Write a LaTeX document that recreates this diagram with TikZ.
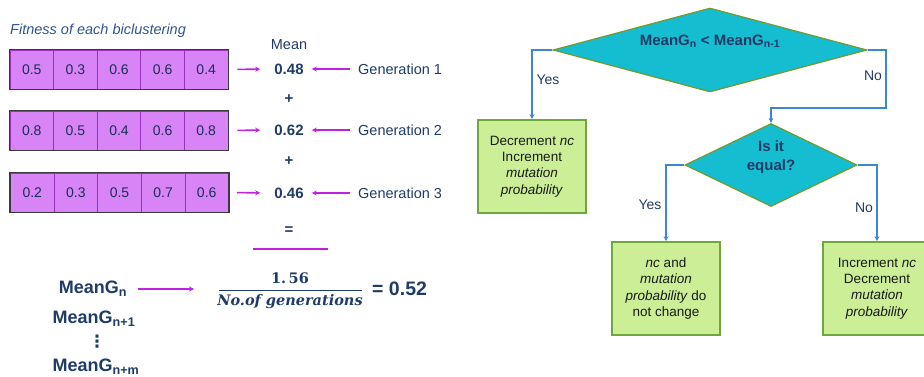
\documentclass[tikz,border=0pt]{standalone}
\usepackage{fontspec}
\setmainfont{Liberation Sans}
\newfontfamily\dejavu{DejaVu Sans}
\newfontfamily\dvserif{DejaVu Serif}
\usetikzlibrary{arrows.meta,shapes.geometric}
\definecolor{navy}{HTML}{1F3B68}
\definecolor{titleblue}{HTML}{2E5590}
\definecolor{cellfill}{HTML}{D884F6}
\definecolor{celldiv}{HTML}{9B30C0}
\definecolor{cellborder}{HTML}{3A3A3A}
\definecolor{magarrow}{HTML}{C21FE6}
\definecolor{cyanfill}{HTML}{14BDD0}
\definecolor{olive}{HTML}{739A2C}
\definecolor{greenfill}{HTML}{CBEE96}
\definecolor{greenborder}{HTML}{6FA83A}
\definecolor{flowblue}{HTML}{3B87D6}
\definecolor{boxtext}{HTML}{1A1A1A}
\tikzset{
  cell/.style={draw=celldiv, line width=0.8pt, fill=cellfill, minimum width=43.6pt, minimum height=39pt, inner sep=0pt, text=navy!80!black, font=\fontsize{14}{16}\selectfont},
  meanval/.style={font=\fontsize{15}{18}\selectfont\bfseries, text=navy, inner sep=2pt},
  gentext/.style={anchor=west, font=\fontsize{14.5}{17}\selectfont, text=navy, inner sep=2pt},
  marrow/.style={draw=magarrow, line width=1.6pt, -{Stealth[length=5pt,width=5pt]}},
  bigbold/.style={font=\fontsize{18}{20}\selectfont\bfseries, text=navy, inner sep=1pt},
  decision/.style={diamond, draw=olive, line width=1.2pt, fill=cyanfill, inner sep=0pt},
  dlabel/.style={font=\fontsize{15}{18}\selectfont\bfseries, text=navy, align=center},
  action/.style={draw=greenborder, line width=1.6pt, fill=greenfill, minimum width=108pt, minimum height=93pt, inner sep=0pt, align=center, text=boxtext, font=\fontsize{13.5}{16.3}\selectfont},
  flow/.style={draw=flowblue, line width=1.5pt, -{Stealth[length=5pt,width=5pt]}},
  ynlabel/.style={font=\fontsize{14}{16}\selectfont, text=navy},
}
\begin{document}
\begin{tikzpicture}[x=1pt,y=-1pt]
\useasboundingbox (0,0) rectangle (924,377);

% ---------- left part ----------
\node[anchor=west, font=\fontsize{14.5}{17}\selectfont\itshape, text=titleblue, inner sep=0pt] (title) at (10,31) {Fitness of each biclustering};

\foreach \v [count=\i] in {0.5,0.3,0.6,0.6,0.4}
  \node[cell] (a\i) at ({10+(\i-0.5)*43.6},69.5) {\v};
\foreach \v [count=\i] in {0.8,0.5,0.4,0.6,0.8}
  \node[cell] (b\i) at ({10+(\i-0.5)*43.6},130.5) {\v};
\foreach \v [count=\i] in {0.2,0.3,0.5,0.7,0.6}
  \node[cell] (c\i) at ({10.5+(\i-0.5)*43.6},192.5) {\v};
\draw[cellborder, line width=1.3pt] (a1.north west) rectangle (a5.south east);
\draw[cellborder, line width=1.3pt] (b1.north west) rectangle (b5.south east);
\draw[cellborder, line width=1.3pt] (c1.north west) rectangle (c5.south east);

\node[font=\fontsize{14.5}{17}\selectfont, text=navy] (meanlbl) at (289,45) {Mean};
\node[meanval] (m1) at (289,69) {0.48};
\node[meanval] (m2) at (289,130) {0.62};
\node[meanval] (m3) at (289,193) {0.46};
\node[meanval] (p1) at (289,99) {+};
\node[meanval] (p2) at (289,161) {+};
\node[meanval] (eq) at (289,231) {=};
\coordinate (ul) at (253,249);
\coordinate (ur) at (328,249);
\draw[magarrow, line width=2pt] (ul) -- (ur);

\node[gentext] (g1) at (356,69) {Generation 1};
\node[gentext] (g2) at (356,130) {Generation 2};
\node[gentext] (g3) at (356,193) {Generation 3};

\draw[marrow, shorten <=9pt, shorten >=12pt] (a5.east) -- (m1.west);
\draw[marrow, shorten <=9pt, shorten >=12pt] (b5.east) -- (m2.west);
\draw[marrow, shorten <=8pt, shorten >=12pt] (c5.east) -- (m3.west);
\draw[marrow, shorten <=6pt, shorten >=6pt] (g1.west) -- (m1.east);
\draw[marrow, shorten <=6pt, shorten >=6pt] (g2.west) -- (m2.east);
\draw[marrow, shorten <=6pt, shorten >=6pt] (g3.west) -- (m3.east);

\node[bigbold] (mg1) at (93,289) {MeanG\textsubscript{n}};
\node[bigbold] (mg2) at (94,319) {MeanG\textsubscript{n+1}};
\node[font=\fontsize{17}{18}\selectfont\dejavu\bfseries, text=navy, inner sep=0pt] (dots) at (97,342) {⋮};
\node[bigbold] (mg3) at (96,367) {MeanG\textsubscript{n+m}};

\coordinate (fl) at (194,289);
\draw[marrow, shorten <=10pt] (mg1.east) -- (fl);

\node[font=\fontsize{14.5}{18}\selectfont\dvserif\bfseries, text=navy] (num) at (290,278) {1.\,56};
\draw[navy, line width=1pt] (219,290) -- (362,290);
\node[font=\fontsize{14.5}{18}\selectfont\dvserif\bfseries\itshape, text=navy] (den) at (290,302) {No.of generations};
\node[anchor=west, font=\fontsize{19.5}{22}\selectfont\bfseries, text=navy, inner sep=0pt] (res) at (372,289) {= 0.52};

% ---------- right part: flowchart ----------
\node[decision, minimum width=314pt, minimum height=84pt] (d1) at (710,50) {};
\node[dlabel] (d1t) at (710,41) {MeanG\textsubscript{n} < MeanG\textsubscript{n-1}};
\node[decision, minimum width=172pt, minimum height=83pt] (d2) at (771,165) {};
\node[dlabel, font=\fontsize{15}{18.5}\selectfont\bfseries] (d2t) at (771,157) {Is it\\equal?};

\node[action] (r1) at (532,166.5) {Decrement \textit{nc}\\Increment\\\textit{mutation}\\\textit{probability}};
\node[action] (r2) at (666,288.5) {\textit{nc} and\\\textit{mutation}\\\textit{probability} do\\not change};
\node[action] (r3) at (877,288.5) {Increment \textit{nc}\\Decrement\\\textit{mutation}\\\textit{probability}};

\draw[flow] (d1.west) -| (r1.north);
\coordinate (k1) at (886,50);
\coordinate (k2) at (886,108);
\draw[flow] (d1.east) -- (k1) -- (k2) -| (d2.north);
\draw[flow] (d2.west) -| (r2.north);
\draw[flow] (d2.east) -| (r3.north);

\node[ynlabel] (y1) at (548,80) {Yes};
\node[ynlabel] (n1) at (873,76) {No};
\node[ynlabel] (y2) at (650,205) {Yes};
\node[ynlabel] (n2) at (864,208) {No};
\end{tikzpicture}
\end{document}
